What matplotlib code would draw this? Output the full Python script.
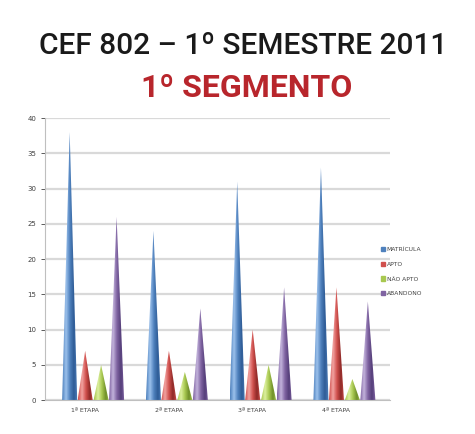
import numpy as np
import matplotlib.pyplot as plt
from matplotlib.patches import Polygon
from matplotlib.colors import LinearSegmentedColormap

etapas = ['1ª ETAPA', '2ª ETAPA', '3ª ETAPA', '4ª ETAPA']
series = ['MATRÍCULA', 'APTO', 'NÃO APTO', 'ABANDONO']
matricula = [38, 24, 31, 33]
apto = [7, 7, 10, 16]
nao_apto = [5, 4, 5, 3]
abandono = [26, 13, 16, 14]
valores = [matricula, apto, nao_apto, abandono]

cores = ['#4F81BD', '#D0504D', '#A8C850', '#8064A2']
cores_escuras = ['#2E5C96', '#8E2A28', '#6F8E2A', '#553F7A']
cores_claras = ['#9CC1EC', '#F2A3A1', '#DDF0A0', '#C3B3DC']

fig = plt.figure(figsize=(4.75, 4.34), dpi=100)
fig.patch.set_facecolor('white')

fig.text(0.512, 0.893, 'CEF 802 – 1º SEMESTRE 2011', ha='center', va='center',
         fontsize=21.5, fontweight='medium', color='#1A1A1A',
         family=['Roboto', 'DejaVu Sans'])
fig.text(0.52, 0.797, '1º SEGMENTO', ha='center', va='center', fontsize=23,
         fontweight='bold', color='#B8262C', family=['Roboto', 'DejaVu Sans'])

ax = fig.add_axes([0.095, 0.078, 0.726, 0.65])

# linhas de grade
for v in range(0, 41, 5):
    ax.axhline(v, color='#D9D9D9', lw=1.6, zorder=0)

offsets = [-0.28, -0.095, 0.095, 0.28]
meia = 0.09
x = np.arange(len(etapas))
for s, vals in enumerate(valores):
    cmap = LinearSegmentedColormap.from_list(
        's%d' % s, [cores[s], cores_claras[s], cores[s], cores_escuras[s], cores[s]])
    grad = np.linspace(0, 1, 64).reshape(1, -1)
    for i, v in enumerate(vals):
        cx = x[i] + offsets[s]
        tri = Polygon([[cx - meia, 0], [cx + meia, 0], [cx, v]], closed=True,
                      facecolor='none', edgecolor='none')
        ax.add_patch(tri)
        im = ax.imshow(grad, cmap=cmap, extent=[cx - meia, cx + meia, 0, v],
                       aspect='auto', zorder=2)
        im.set_clip_path(tri)

ax.set_aspect('auto')
ax.set_xlim(-0.573, 3.544)
ax.set_ylim(0, 40)
ax.set_xticks(x - 0.1)
ax.set_xticklabels(etapas, fontsize=4.5, color='#404040')
ax.set_yticks(range(0, 41, 5))
ax.tick_params(axis='y', labelsize=5, colors='#404040', length=3, width=0.6)
ax.tick_params(axis='x', length=0, pad=6)
for sp in ['top', 'right']:
    ax.spines[sp].set_visible(False)
ax.spines['left'].set_color('#BFBFBF')
ax.spines['bottom'].set_color('#BFBFBF')

handles = [plt.Rectangle((0, 0), 1, 1, color=c) for c in cores]
fig.legend(handles, series, loc='center left', bbox_to_anchor=(0.79, 0.374),
           frameon=False, fontsize=4.3, handlelength=0.7, handleheight=0.7,
           handletextpad=0.3, labelspacing=1.6, labelcolor='#404040')

fig.savefig('out.png', dpi=100)
